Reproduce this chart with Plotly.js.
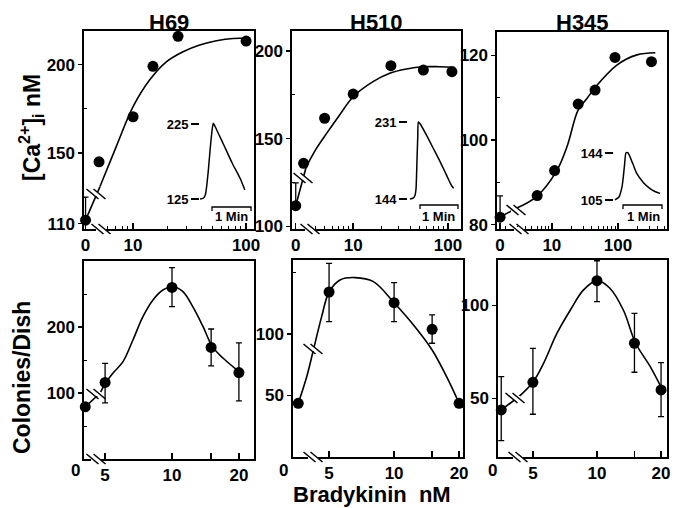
<!DOCTYPE html>
<html><head><meta charset="utf-8">
<script src="https://cdn.plot.ly/plotly-3.0.1.min.js"></script>
<style>html,body{margin:0;padding:0;background:#fff}#chart{width:677px;height:508px}</style>
</head><body><div id="chart"></div>
<script>
// ================= DATA =================
const panelNames = ['H69', 'H510', 'H345'];

// ---- top row: [Ca2+]i (nM) vs bradykinin (nM) ----
const h69CaConc = [0, 5, 10, 15, 25, 100];
const h69CaVal  = [112, 145, 170.5, 199, 216, 213.3];
const h69CaErr  = [13, 0, 0, 0, 0, 0];
const h69FitConc = [5.1, 7.1, 10, 14, 19.7, 27.7, 38.9, 54.7, 76.8, 104];
const h69FitVal  = [131, 153.6, 176.2, 191.3, 201.6, 207.3, 211.1, 213.5, 214.8, 214.8];

const h510CaConc = [0, 3, 5, 10, 25, 55, 110];
const h510CaVal  = [111.8, 136, 161.7, 175.5, 191.7, 189.2, 188.3];
const h510CaErr  = [13, 0, 0, 0, 0, 0, 0];
const h510FitConc = [3.2, 4.1, 5.25, 7.2, 10, 16.2, 24.3, 36.5, 54.6, 81.8, 117.6];
const h510FitVal  = [134, 144.5, 153.1, 163.6, 174, 182.6, 187.4, 189.8, 191.1, 191.1, 190.8];

const h345CaConc = [0, 6, 11, 25, 45, 90, 320];
const h345CaVal  = [81.8, 86.9, 92.8, 108.5, 111.8, 119.5, 118.5];
const h345CaErr  = [5, 0, 0, 0, 0, 0, 0];
const h345FitConc = [2.9, 5.8, 11.6, 16.9, 25, 33.9, 45, 96, 193, 366];
const h345FitVal  = [83.9, 86.6, 92.5, 98.4, 107.1, 109.8, 112.4, 117.7, 120.1, 120.6];

// ---- inset Ca traces: time (s) vs [Ca2+]i (nM) ----
const h69TraceTime  = [0, 5, 8, 10, 13, 16, 18.5, 20.5, 23, 35, 50, 62, 69];
const h69TraceCa    = [125, 126, 130, 140, 165, 195, 216, 226, 222, 200, 172, 152, 137];
const h69TraceTicks = [125, 225];
const h510TraceTime  = [3, 8, 11, 12.6, 14.2, 15.4, 16.3, 19, 30, 40, 50, 60, 68, 72];
const h510TraceCa    = [144, 145, 148, 155, 188, 215, 231, 229, 215, 201, 187, 172, 160, 156];
const h510TraceTicks = [144, 231];
const h345TraceTime  = [1.5, 7.7, 12.3, 14.5, 16.2, 18.5, 21.5, 29, 35, 45, 55, 63, 70.8];
const h345TraceCa    = [105, 107.5, 115.8, 125, 134, 144.2, 144, 135, 127, 119.5, 114.6, 112, 110.5];
const h345TraceTicks = [105, 144];

// ---- bottom row: colonies/dish vs bradykinin (nM) ----
const colConc = [0, 5, 10, 15, 20];
const colTickVals = [5, 10, 20];
const colTickText = ['5', '10', '20'];
const colMinorTicks = [15];
const h69Col      = [79, 116, 260, 169, 131];
const h69ColErrUp = [0, 29, 30, 28, 45];
const h69ColErrDn = [0, 31, 29, 28, 43];
const h69ColFitConc = [4.75, 5.0, 5.42, 6.02, 6.67, 7.4, 8.21, 9.1, 10.1, 11.2, 12.4, 13.8, 15.2, 17.0, 20.2];
const h69ColFitVal  = [100, 114, 129.8, 147.5, 180.3, 215.7, 241, 256, 261, 253.5, 230.8, 200.5, 170.2, 152.6, 131.4];

const h510Col      = [43.6, 134, 125.3, 103.7, 43.6];
const h510ColErrUp = [0, 23.3, 16.3, 11.7, 0];
const h510ColErrDn = [0, 24.1, 15.4, 11.3, 0];
const h510ColFitConc = [0, 3.94, 4.23, 4.62, 5, 5.62, 6.6, 8.02, 10, 12.3, 15, 17.5, 20];
const h510ColFitVal  = [43.6, 65.2, 86.9, 114, 134, 143.8, 145.7, 142.4, 125.3, 107.2, 86.9, 65.2, 43.6];

const h345Col      = [43.8, 58.7, 113.4, 79.7, 54.6];
const h345ColErrUp = [17.9, 18.3, 10.7, 16.1, 14.7];
const h345ColErrDn = [16.5, 17.2, 11.3, 15.6, 14.4];
const h345ColFitConc = [4.3, 5, 5.61, 6.49, 7.5, 8.65, 10, 11.5, 13.3, 15.2, 17.8, 20.3];
const h345ColFitVal  = [51, 58.7, 68.9, 85.1, 97.6, 108.4, 113.4, 109.3, 97.6, 79.7, 67.1, 54.6];

// ================= LAYOUT HELPERS =================
const W = 677, H = 508;
const fx = p => p / W;
const fy = p => 1 - p / H;
const FONT = 'Liberation Sans, Arial, Helvetica, sans-serif';
const tickFont = {family: FONT, size: 17, color: '#000', weight: 700};

// panel frames (px): [left, right, top, bottom]
const frames = [
  [84, 254, 31, 229], [292, 461, 31, 229], [497, 667, 32, 229],
  [84, 254, 261, 459], [293, 463, 260, 457], [498, 667, 260, 457]
];
const xRanges = [[0.566, 2.07], [0.355, 2.137], [0.171, 2.74], [0.604, 1.369], [0.532, 1.319], [0.535, 1.329]];
const yRanges = [[107, 219], [98.5, 211.5], [79, 125.5], [0, 300], [0, 160], [18.5, 124.5]];
const zeroPos = [3.8, 2.48, 1.65, 4.07, 3.6, 3.55];
const yTicks = [[110, 150, 200], [100, 150, 200], [80, 100, 120], [100, 200], [50, 100], [50, 100]];
const yMinor = [[125, 175], [125, 175], [90, 110], [50, 150, 250], [150], []];
const topXMinor = [
  [6, 7, 8, 9, 20, 30, 40, 50, 60, 70, 80, 90],
  [4, 5, 6, 7, 8, 9, 20, 30, 40, 50, 60, 70, 80, 90],
  [2, 3, 4, 5, 6, 7, 8, 9, 20, 30, 40, 50, 60, 70, 80, 90, 200, 300, 400, 500]
];

const layout = {
  width: W, height: H,
  margin: {l: 0, r: 0, t: 0, b: 0, pad: 0},
  paper_bgcolor: '#fff', plot_bgcolor: 'rgba(0,0,0,0)',
  showlegend: false,
  font: {family: FONT, color: '#000'},
  annotations: [], shapes: []
};
const sfx = i => (i === 1 ? '' : String(i));

for (let i = 1; i <= 6; i++) {
  const f = frames[i - 1];
  const top = i <= 3;
  const xa = {
    type: 'log', domain: [fx(f[0]), fx(f[1])], range: xRanges[i - 1], anchor: 'y' + sfx(i),
    showline: true, mirror: true, linecolor: '#000', linewidth: 1.6,
    showgrid: false, zeroline: false, fixedrange: true,
    tickmode: 'array',
    tickvals: top ? [zeroPos[i - 1], 10, 100] : colTickVals,
    ticktext: top ? ['0', '10', '100'] : colTickText,
    ticks: 'inside', ticklen: 6, tickwidth: 1.4, tickcolor: '#000',
    tickfont: tickFont, tickangle: 0,
    minor: top
      ? {tickmode: 'array', tickvals: topXMinor[i - 1], ticks: 'inside', ticklen: 3, tickwidth: 1, tickcolor: '#000', showgrid: false}
      : {tickmode: 'array', tickvals: colMinorTicks, ticks: 'inside', ticklen: 6, tickwidth: 1.4, tickcolor: '#000', showgrid: false}
  };
  const ya = {
    domain: [fy(f[3]), fy(f[2])], range: yRanges[i - 1], anchor: 'x' + sfx(i),
    showline: true, mirror: true, linecolor: '#000', linewidth: 1.6,
    showgrid: false, zeroline: false, fixedrange: true,
    tickmode: 'array', tickvals: yTicks[i - 1],
    ticks: 'outside', ticklen: 4, tickwidth: 1.4, tickcolor: '#000',
    tickfont: tickFont
  };
  if (yMinor[i - 1].length) ya.minor = {tickmode: 'array', tickvals: yMinor[i - 1], ticks: 'inside', ticklen: 3, tickwidth: 1, tickcolor: '#000', showgrid: false};
  layout['xaxis' + sfx(i)] = xa;
  layout['yaxis' + sfx(i)] = ya;
}

// inset axes 7..9
const insets = [
  {k: 7, x: [200, 252], y: [120, 205], xr: [0, 80], yr: [117, 230.3], ticks: h69TraceTicks},
  {k: 8, x: [408, 460], y: [117, 205], xr: [0, 82], yr: [137.2, 236.6], ticks: h510TraceTicks},
  {k: 9, x: [614, 666], y: [145, 206], xr: [0, 80], yr: [100, 150.6], ticks: h345TraceTicks}
];
insets.forEach(s => {
  layout['xaxis' + s.k] = {domain: [fx(s.x[0]), fx(s.x[1])], range: s.xr, anchor: 'y' + s.k,
    showline: false, showgrid: false, zeroline: false, showticklabels: false, ticks: '', fixedrange: true};
  layout['yaxis' + s.k] = {
    domain: [fy(s.y[1]), fy(s.y[0])], range: s.yr, anchor: 'x' + s.k,
    showline: false, showgrid: false, zeroline: false, fixedrange: true,
    tickmode: 'array', tickvals: s.ticks, ticks: 'outside', ticklen: 8, tickwidth: 1.3, tickcolor: '#000',
    tickfont: {family: FONT, size: 13, color: '#000', weight: 700}
  };
});

// ================= TRACES =================
const traces = [];
const mapZero = (arr, z) => arr.map(v => (v === 0 ? z : v));
const lineStyle = {color: '#000', width: 1.6};

function addPanel(i, conc, val, errUp, errDn, fitConc, fitVal, connector) {
  const z = zeroPos[i - 1];
  const xa = 'x' + sfx(i), ya = 'y' + sfx(i);
  const fc = mapZero(fitConc, z);
  if (connector) {
    traces.push({x: [z, fc[0]], y: [val[0], fitVal[0]], xaxis: xa, yaxis: ya, mode: 'lines', line: lineStyle, hoverinfo: 'skip'});
  }
  traces.push({x: fc, y: fitVal, xaxis: xa, yaxis: ya, mode: 'lines', line: Object.assign({shape: 'spline', smoothing: 1}, lineStyle), hoverinfo: 'skip'});
  traces.push({
    x: mapZero(conc, z), y: val, xaxis: xa, yaxis: ya, mode: 'markers', cliponaxis: false,
    marker: {color: '#000', size: 11},
    error_y: {type: 'data', symmetric: false, array: errUp, arrayminus: errDn, color: '#000', thickness: 1.3, width: 3}
  });
}
const zeros = n => new Array(n).fill(0);
addPanel(1, h69CaConc, h69CaVal, h69CaErr, zeros(h69CaConc.length), h69FitConc, h69FitVal, true);
addPanel(2, h510CaConc, h510CaVal, h510CaErr, zeros(h510CaConc.length), h510FitConc, h510FitVal, true);
addPanel(3, h345CaConc, h345CaVal, h345CaErr, zeros(h345CaConc.length), h345FitConc, h345FitVal, true);
addPanel(4, colConc, h69Col, h69ColErrUp, h69ColErrDn, h69ColFitConc, h69ColFitVal, true);
addPanel(5, colConc, h510Col, h510ColErrUp, h510ColErrDn, h510ColFitConc, h510ColFitVal, false);
addPanel(6, colConc, h345Col, h345ColErrUp, h345ColErrDn, h345ColFitConc, h345ColFitVal, true);

[[7, h69TraceTime, h69TraceCa], [8, h510TraceTime, h510TraceCa], [9, h345TraceTime, h345TraceCa]].forEach(([k, t, c]) => {
  traces.push({x: t, y: c, xaxis: 'x' + k, yaxis: 'y' + k, mode: 'lines', line: {color: '#000', width: 1.5, shape: 'spline', smoothing: 0.6}, hoverinfo: 'skip'});
});

// ================= DECORATIONS =================
function brk(cx, cy, mask) {
  if (mask) layout.shapes.push({type: 'line', xref: 'paper', yref: 'paper', x0: fx(cx - 5), x1: fx(cx + 5), y0: fy(cy), y1: fy(cy), line: {color: '#fff', width: 4}});
  [-3.5, 3.5].forEach(o => layout.shapes.push({
    type: 'line', xref: 'paper', yref: 'paper',
    x0: fx(cx + o - 6), y0: fy(cy - 5), x1: fx(cx + o + 6), y1: fy(cy + 5),
    line: {color: '#000', width: 1.5}
  }));
}
// axis breaks
brk(101, 229, true); brk(310, 229, true); brk(519, 229, true);
brk(96, 459, true); brk(313, 457, true); brk(518, 457, true);
// curve breaks
brk(96, 194, true); brk(303, 178, true); brk(516, 210, true);
brk(96, 394, true); brk(313, 349, true); brk(515, 398, true);

// 1-min scale bars
[[212, 251, 207, 231], [420, 458, 205, 439], [623, 662, 205, 643]].forEach(([a, b, y, tc]) => {
  layout.shapes.push({
    type: 'path', xref: 'paper', yref: 'paper',
    path: `M ${fx(a)},${fy(y + 4)} L ${fx(a)},${fy(y)} L ${fx(b)},${fy(y)} L ${fx(b)},${fy(y + 4)}`,
    line: {color: '#000', width: 1.3}
  });
  layout.annotations.push({xref: 'paper', yref: 'paper', x: fx(tc), y: fy(216), text: '1 Min', showarrow: false,
    xanchor: 'center', yanchor: 'middle', font: {family: FONT, size: 13, color: '#000', weight: 700}});
});

// panel titles
[[169, 'H69'], [376, 'H510'], [582, 'H345']].forEach(([x, t], j) => {
  layout.annotations.push({xref: 'paper', yref: 'paper', x: fx(x), y: fy(22), text: panelNames[j], showarrow: false,
    xanchor: 'center', yanchor: 'middle', font: {family: FONT, size: 22, color: '#000', weight: 700}});
});
// bottom-row "0" labels
[75, 283, 492].forEach(x => layout.annotations.push({xref: 'paper', yref: 'paper', x: fx(x), y: fy(470), text: '0',
  showarrow: false, xanchor: 'center', yanchor: 'middle', font: tickFont}));
// axis titles
layout.annotations.push({xref: 'paper', yref: 'paper', x: fx(31), y: fy(127), text: '[Ca<sup>2+</sup>]<sub>i</sub> nM',
  textangle: -90, showarrow: false, xanchor: 'center', yanchor: 'middle', font: {family: FONT, size: 23, color: '#000', weight: 700}});
layout.annotations.push({xref: 'paper', yref: 'paper', x: fx(22), y: fy(378), text: 'Colonies/Dish',
  textangle: -90, showarrow: false, xanchor: 'center', yanchor: 'middle', font: {family: FONT, size: 23, color: '#000', weight: 700}});
layout.annotations.push({xref: 'paper', yref: 'paper', x: fx(372), y: fy(494), text: 'Bradykinin  nM',
  showarrow: false, xanchor: 'center', yanchor: 'middle', font: {family: FONT, size: 22, color: '#000', weight: 700}});

Plotly.newPlot('chart', traces, layout, {staticPlot: true, displayModeBar: false});
</script>
</body></html>
